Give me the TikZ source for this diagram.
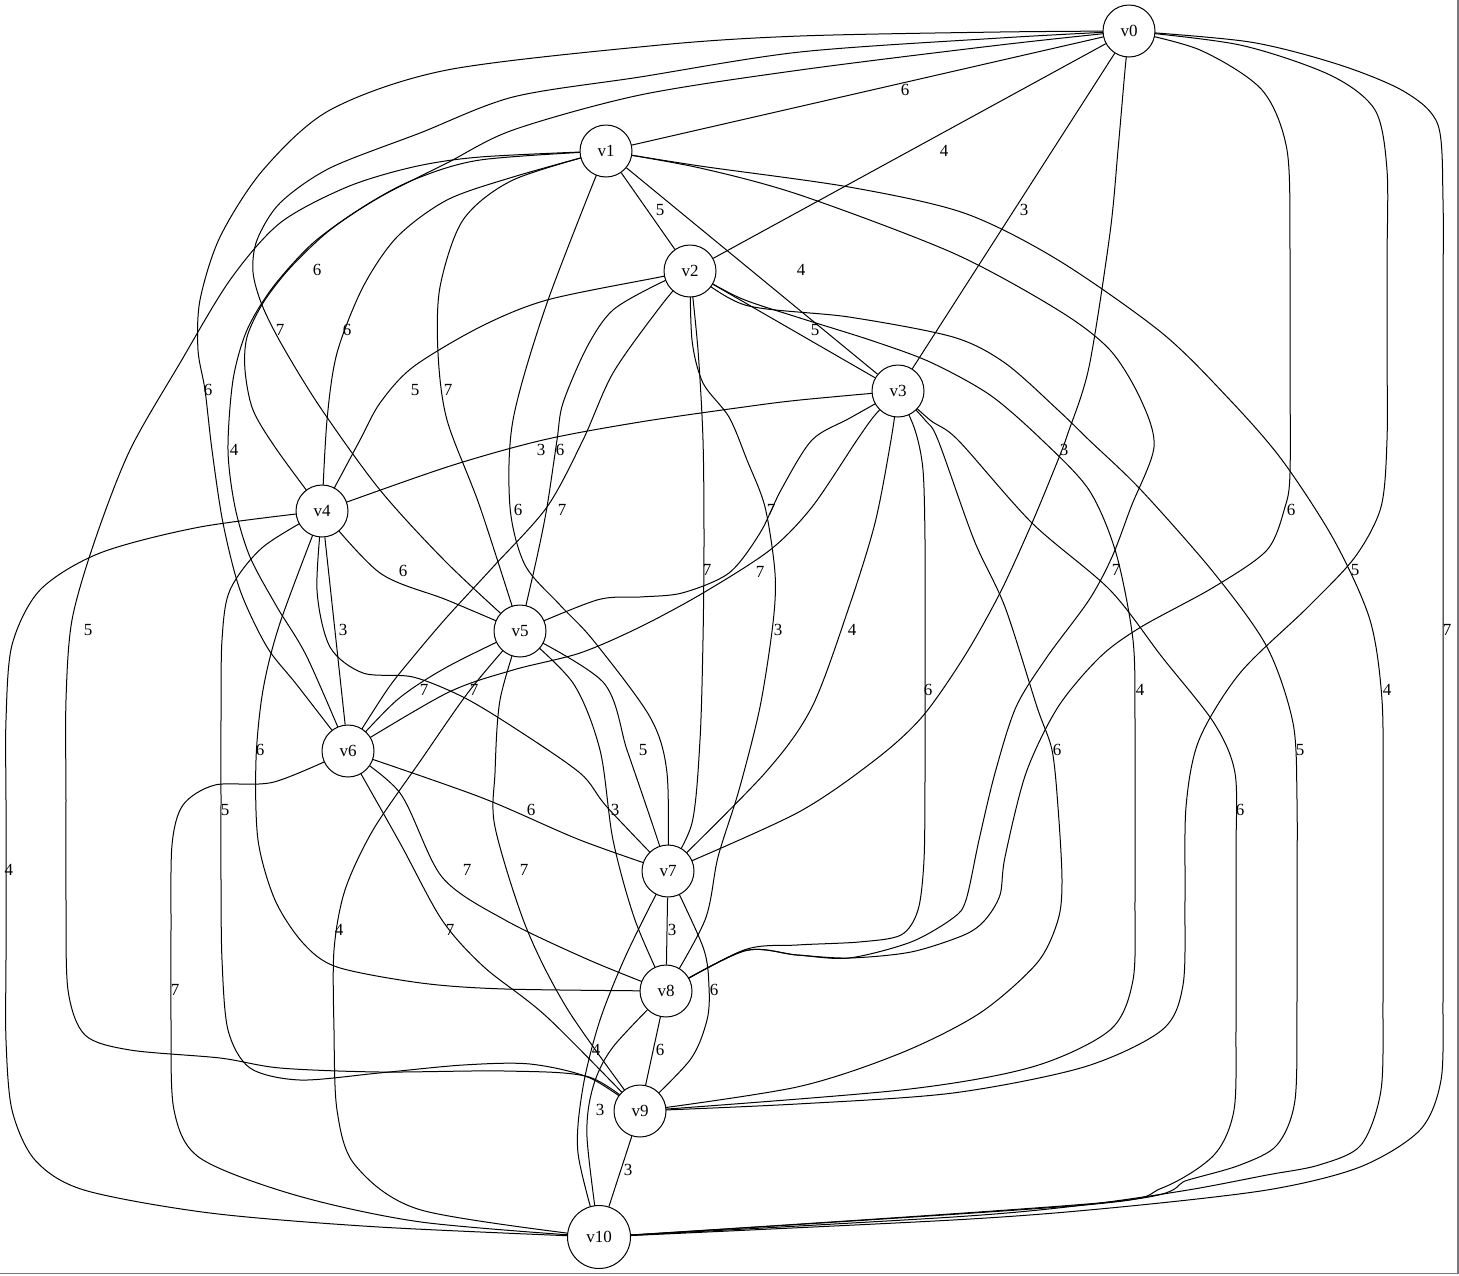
\documentclass[tikz,border=0pt]{standalone}
\usepackage{fontspec}
\setmainfont{Liberation Serif}
\usepackage{tikz}
\usetikzlibrary{backgrounds}
\definecolor{framegray}{RGB}{120,120,130}

\begin{document}
\begin{tikzpicture}[x=1pt,y=-1pt,
        vertex/.style={circle, draw, fill=white, line width=1pt, inner sep=0pt, minimum size=52pt, font=\fontsize{17}{20}\selectfont},
        wt/.style={inner sep=0pt, font=\fontsize{17}{20}\selectfont},
        edge/.style={line width=1pt}]

        \useasboundingbox (0,0) rectangle (1459,1275);
        \draw[framegray, line width=1.5pt] (0,1273.5) -- (1458.2,1273.5) -- (1458.2,0);

        % vertices
        \node[vertex] (v0) at (1129,31) {v0};
        \node[vertex] (v1) at (606,151) {v1};
        \node[vertex] (v2) at (690,271) {v2};
        \node[vertex] (v3) at (898,391) {v3};
        \node[vertex] (v4) at (322,511) {v4};
        \node[vertex] (v5) at (520,631) {v5};
        \node[vertex] (v6) at (348,751) {v6};
        \node[vertex] (v7) at (668,871) {v7};
        \node[vertex] (v8) at (666,991) {v8};
        \node[vertex] (v9) at (640,1111) {v9};
        \node[vertex, minimum size=63pt] (v10) at (599,1237) {v10};

        \begin{scope}[on background layer]
        % edges of v0
        \draw[edge] (v0) -- (v1);
        \draw[edge] (v0) -- (v2);
        \draw[edge] (v0) -- (v3);
        \draw[edge] plot[smooth] coordinates {(v0) (1000,45) (800,70) (640,95) (513,130) (447,163) (380,197) (330,230) (290,268) (263,303) (247,337) (245,370) (253,410) (277,450) (v4)};
        \draw[edge] plot[smooth] coordinates {(v0) (1000,38) (800,52) (640,77) (513,97) (420,133) (330,168) (280,203) (257,240) (253,272) (262,305) (282,345) (320,407) (380,490) (447,563) (v5)};
        \draw[edge] plot[smooth] coordinates {(v0) (1000,32) (800,36) (660,45) (447,70) (330,110) (263,170) (220,237) (200,300) (198,350) (205,390) (212,450) (223,523) (240,590) (267,647) (297,685) (v6)};
        \draw[edge] plot[smooth] coordinates {(v0) (1125,70) (1118,150) (1110,233) (1089,367) (1068,433) (1058,460) (1032,523) (1000,593) (964,657) (922,717) (875,760) (797,813) (v7)};
        \draw[edge] plot[smooth] coordinates {(v0) (1200,50) (1262,90) (1287,150) (1290,250) (1290,360) (1290,473) (1285,507) (1267,550) (1214,587) (1141,627) (1100,657) (1058,707) (1026,773) (1005,857) (1000,895) (985,920) (964,935) (911,952) (849,958) (797,955) (744,951) (v8)};
        \draw[edge] plot[smooth] coordinates {(v0) (1240,45) (1330,75) (1375,110) (1387,170) (1387,260) (1387,350) (1387,440) (1381,507) (1355,557) (1308,607) (1240,673) (1199,740) (1186,807) (1185,900) (1183,985) (1162,1030) (1084,1067) (953,1093) (797,1104) (v9)};
        \draw[edge] plot[smooth] coordinates {(v0) (1250,42) (1340,65) (1405,92) (1438,125) (1443,200) (1443,300) (1443,400) (1443,500) (1443,600) (1443,700) (1443,800) (1443,900) (1443,1000) (1441,1080) (1420,1130) (1360,1167) (1267,1190) (1110,1208) (953,1220) (v10)};

        % edges of v1
        \draw[edge] (v1) -- (v2);
        \draw[edge] (v1) -- (v3);
        \draw[edge] plot[smooth] coordinates {(v1) (513,177) (447,200) (397,237) (363,287) (337,353) (327,420) (v4)};
        \draw[edge] plot[smooth] coordinates {(v1) (513,180) (463,220) (440,287) (438,353) (447,420) (480,507) (v5)};
        \draw[edge] plot[smooth] coordinates {(v1) (480,160) (413,180) (363,207) (313,243) (273,287) (247,330) (233,380) (228,450) (235,507) (250,557) (277,607) (307,657) (v6)};
        \draw[edge] plot[smooth] coordinates {(v1) (547,303) (513,420) (510,507) (525,565) (560,605) (593,640) (650,717) (667,773) (v7)};
        \draw[edge] plot[smooth] coordinates {(v1) (700,168) (800,195) (953,253) (1058,310) (1110,350) (1141,400) (1154,447) (1131,507) (1112,557) (1089,600) (1047,657) (1016,707) (995,773) (979,840) (966,900) (953,918) (911,942) (849,958) (797,955) (744,951) (v8)};
        \draw[edge] plot[smooth] coordinates {(v1) (480,157) (413,167) (347,187) (280,223) (230,280) (180,363) (130,450) (95,540) (72,620) (66,700) (66,800) (66,900) (68,990) (85,1035) (130,1050) (220,1058) (280,1068) (380,1072) (505,1071) (589,1077) (v9)};
        \draw[edge] plot[smooth] coordinates {(v1) (700,166) (849,187) (964,213) (1058,260) (1162,333) (1230,400) (1282,460) (1334,540) (1370,620) (1382,700) (1383,800) (1383,900) (1383,1000) (1381,1090) (1361,1145) (1319,1165) (1267,1175) (1188,1190) (1084,1205) (953,1217) (v10)};

        % edges of v2
        \draw[edge] (v2) -- (v3);
        \draw[edge] plot[smooth] coordinates {(v2) (660,277) (547,300) (480,327) (413,367) (380,403) (360,440) (v4)};
        \draw[edge] plot[smooth] coordinates {(v2) (660,283) (613,310) (587,347) (563,403) (557,440) (547,507) (537,557) (v5)};
        \draw[edge] plot[smooth] coordinates {(v2) (660,307) (613,373) (583,440) (547,507) (493,567) (447,617) (413,657) (387,690) (v6)};
        \draw[edge] plot[smooth] coordinates {(v2) (698,350) (703,440) (704,540) (703,640) (700,740) (692,823) (v7)};
        \draw[edge] plot[smooth] coordinates {(v2) (692,340) (703,383) (729,417) (747,460) (765,507) (775,573) (773,623) (760,707) (739,790) (718,857) (705,920) (v8)};
        \draw[edge] plot[smooth] coordinates {(v2) (740,298) (800,318) (870,340) (930,362) (990,395) (1042,440) (1089,490) (1116,553) (1133,640) (1135,720) (1135,810) (1135,900) (1133,980) (1110,1030) (1032,1067) (901,1090) (v9)};
        \draw[edge] plot[smooth] coordinates {(v2) (745,305) (849,317) (953,337) (1005,363) (1058,410) (1089,440) (1141,490) (1214,573) (1267,647) (1293,723) (1297,800) (1297,900) (1297,1000) (1295,1100) (1277,1145) (1240,1165) (1188,1180) (1110,1202) (v10)};

        % edges of v3
        \draw[edge] plot[smooth] coordinates {(v3) (800,400) (744,407) (640,422) (543,440) (447,467) (v4)};
        \draw[edge] plot[smooth] coordinates {(v3) (850,418) (812,440) (781,490) (760,533) (729,573) (682,593) (640,597) (597,600) (v5)};
        \draw[edge] plot[smooth] coordinates {(v3) (875,415) (857,440) (812,507) (770,550) (703,593) (640,627) (580,653) (513,670) (447,693) (v6)};
        \draw[edge] plot[smooth] coordinates {(v3) (891,440) (875,523) (849,607) (812,707) (765,773) (v7)};
        \draw[edge] plot[smooth] coordinates {(v3) (915,430) (923,470) (925,540) (925,620) (925,700) (925,780) (924,860) (918,910) (901,935) (859,942) (797,945) (744,950) (v8)};
        \draw[edge] plot[smooth] coordinates {(v3) (925,420) (938,440) (974,540) (1005,607) (1037,707) (1052,750) (1058,807) (1062,880) (1058,920) (1037,963) (980,1013) (901,1053) (797,1087) (v9)};
        \draw[edge] plot[smooth] coordinates {(v3) (930,420) (958,440) (1032,523) (1110,590) (1162,657) (1214,723) (1235,773) (1236,850) (1236,940) (1236,1030) (1234,1110) (1214,1155) (1162,1188) (1084,1205) (v10)};

        % edges of v4
        \draw[edge] plot[smooth] coordinates {(v4) (380,573) (447,600) (v5)};
        \draw[edge] (v4) -- (v6);
        \draw[edge] plot[smooth] coordinates {(v4) (317,590) (330,647) (363,673) (413,677) (463,697) (513,727) (580,773) (607,807) (v7)};
        \draw[edge] plot[smooth] coordinates {(v4) (280,623) (263,690) (256,760) (258,840) (275,900) (303,943) (337,967) (421,983) (505,989) (v8)};
        \draw[edge] plot[smooth] coordinates {(v4) (263,547) (230,590) (222,640) (221,720) (221,800) (221,880) (222,960) (228,1030) (250,1068) (300,1080) (379,1073) (463,1065) (530,1064) (590,1078) (v9)};
        \draw[edge] plot[smooth] coordinates {(v4) (200,527) (100,553) (40,590) (12,645) (6,720) (6,800) (6,880) (6,960) (6,1040) (12,1110) (35,1160) (84,1190) (210,1213) (379,1227) (v10)};

        % edges of v5
        \draw[edge] plot[smooth] coordinates {(v5) (447,667) (397,700) (v6)};
        \draw[edge] plot[smooth] coordinates {(v5) (603,682) (627,750) (650,817) (v7)};
        \draw[edge] plot[smooth] coordinates {(v5) (573,683) (600,750) (613,840) (635,920) (v8)};
        \draw[edge] plot[smooth] coordinates {(v5) (500,700) (495,773) (495,827) (526,927) (568,1010) (v9)};
        \draw[edge] plot[smooth] coordinates {(v5) (470,690) (421,760) (373,830) (345,890) (334,950) (334,1030) (337,1110) (355,1165) (421,1210) (v10)};

        % edges of v6
        \draw[edge] plot[smooth] coordinates {(v6) (480,797) (580,840) (v7)};
        \draw[edge] plot[smooth] coordinates {(v6) (400,793) (442,877) (505,920) (589,960) (v8)};
        \draw[edge] plot[smooth] coordinates {(v6) (400,843) (442,920) (484,967) (547,1017) (v9)};
        \draw[edge] plot[smooth] coordinates {(v6) (274,782) (215,785) (183,805) (172,845) (171,930) (171,1020) (174,1110) (200,1158) (295,1195) (421,1222) (v10)};

        % edges of v7 .. v9
        \draw[edge] (v7) -- (v8);
        \draw[edge] plot[smooth] coordinates {(v7) (703,947) (709,987) (707,1020) (690,1060) (v9)};
        \draw[edge] plot[smooth] coordinates {(v7) (627,953) (600,1020) (583,1087) (578,1153) (v10)};
        \draw[edge] (v8) -- (v9);
        \draw[edge] plot[smooth] coordinates {(v8) (613,1047) (593,1087) (587,1137) (v10)};
        \draw[edge] (v9) -- (v10);
        \end{scope}

        % weights
        \node[wt] (l0-1) at (905,90) {6};
        \node[wt] (l0-2) at (944,151) {4};
        \node[wt] (l0-3) at (1024,210) {3};
        \node[wt] (l0-4) at (317,270) {6};
        \node[wt] (l0-5) at (280,330) {7};
        \node[wt] (l0-6) at (208,390) {6};
        \node[wt] (l0-7) at (1064,450) {3};
        \node[wt] (l0-8) at (1291,510) {6};
        \node[wt] (l0-9) at (1355,570) {5};
        \node[wt] (l0-10) at (1447,630) {7};
        \node[wt] (l1-2) at (660,210) {5};
        \node[wt] (l1-3) at (801,270) {4};
        \node[wt] (l1-4) at (347,330) {6};
        \node[wt] (l1-5) at (448,390) {7};
        \node[wt] (l1-6) at (234,450) {4};
        \node[wt] (l1-7) at (518,510) {6};
        \node[wt] (l1-8) at (1116,570) {7};
        \node[wt] (l1-9) at (88,630) {5};
        \node[wt] (l1-10) at (1387,690) {4};
        \node[wt] (l2-3) at (815,330) {5};
        \node[wt] (l2-4) at (415,390) {5};
        \node[wt] (l2-5) at (560,450) {6};
        \node[wt] (l2-6) at (562,510) {7};
        \node[wt] (l2-7) at (707,570) {7};
        \node[wt] (l2-8) at (778,630) {3};
        \node[wt] (l2-9) at (1140,690) {4};
        \node[wt] (l2-10) at (1300,750) {5};
        \node[wt] (l3-4) at (541,450) {3};
        \node[wt] (l3-5) at (771,510) {7};
        \node[wt] (l3-6) at (760,572) {7};
        \node[wt] (l3-7) at (852,630) {4};
        \node[wt] (l3-8) at (928,690) {6};
        \node[wt] (l3-9) at (1057,750) {6};
        \node[wt] (l3-10) at (1240,810) {6};
        \node[wt] (l4-5) at (403,571) {6};
        \node[wt] (l4-6) at (343,630) {3};
        \node[wt] (l4-7) at (474,690) {7};
        \node[wt] (l4-8) at (260,750) {6};
        \node[wt] (l4-9) at (225,810) {5};
        \node[wt] (l4-10) at (9,870) {4};
        \node[wt] (l5-6) at (424,690) {7};
        \node[wt] (l5-7) at (643,750) {5};
        \node[wt] (l5-8) at (615,810) {3};
        \node[wt] (l5-9) at (524,870) {7};
        \node[wt] (l5-10) at (339,930) {4};
        \node[wt] (l6-7) at (531,810) {6};
        \node[wt] (l6-8) at (467,870) {7};
        \node[wt] (l6-9) at (450,930) {7};
        \node[wt] (l6-10) at (175,990) {7};
        \node[wt] (l7-8) at (672,930) {3};
        \node[wt] (l7-9) at (714,990) {6};
        \node[wt] (l7-10) at (596,1050) {4};
        \node[wt] (l8-9) at (660,1050) {6};
        \node[wt] (l8-10) at (600,1110) {3};
        \node[wt] (l9-10) at (628,1170) {3};

\end{tikzpicture}
\end{document}
